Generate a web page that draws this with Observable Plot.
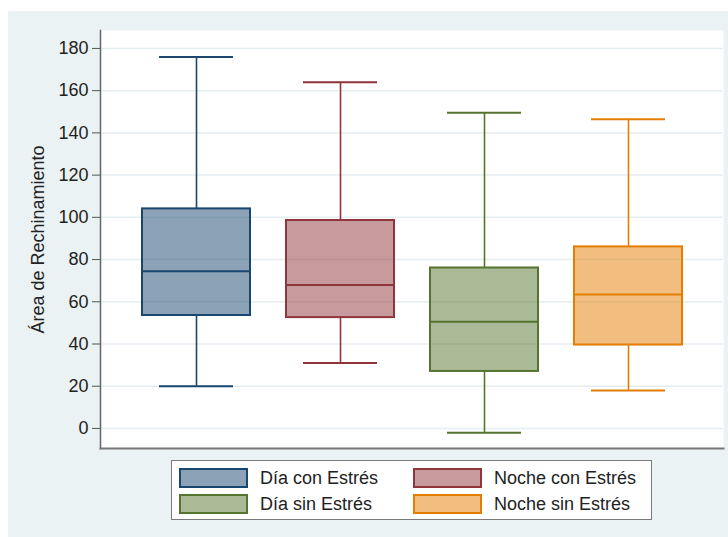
<!DOCTYPE html>
<html>
<head>
<meta charset="utf-8">
<script src="https://cdn.jsdelivr.net/npm/d3@7"></script>
<script src="https://cdn.jsdelivr.net/npm/@observablehq/plot@0.6"></script>
<style>
  html, body { margin: 0; padding: 0; background: #ffffff; }
  body { width: 728px; height: 537px; position: relative; overflow: hidden;
         font-family: "Liberation Sans", Arial, sans-serif; }
  #panel { position: absolute; left: 8px; top: 11px; width: 720px; height: 526px; background: #eaf2f3; }
  #chart { position: absolute; left: 0; top: 0; }
  #legend { position: absolute; left: 163px; top: 449px; width: 481px; height: 60px;
            box-sizing: border-box; border: 1px solid #7a7a7a; background: #ffffff; }
  .key { position: absolute; display: flex; align-items: center; height: 20px; }
  .swatch { width: 69px; height: 20px; box-sizing: border-box; border-width: 2px; border-style: solid; }
  .key span { margin-left: 12px; font-size: 18px; color: #222; white-space: nowrap; }
</style>
</head>
<body>
<div id="panel">
  <div id="chart"></div>
  <div id="legend"></div>
</div>
<script>
// Groups (x categories) in plotting order
const groups = ["Día con Estrés", "Noche con Estrés", "Día sin Estrés", "Noche sin Estrés"];
// Box-plot summaries per group
const lowerWhisker = [20, 31, -2, 18];
const quartile1 = [53.5, 52.5, 27, 39.5];
const medians = [74.5, 68, 50.5, 63.5];
const quartile3 = [104, 98.5, 76, 86];
const upperWhisker = [176, 164, 149.5, 146.5];
// Axis
const yTicks = [0, 20, 40, 60, 80, 100, 120, 140, 160, 180];
const yTitle = "Área de Rechinamiento";
// Series colours
const palette = ["#1a476f", "#90353b", "#55752f", "#e37e00"];

const rows = groups.map((g, i) => ({
  group: g,
  lo: lowerWhisker[i],
  q1: quartile1[i],
  med: medians[i],
  q3: quartile3[i],
  hi: upperWhisker[i]
}));

const chart = Plot.plot({
  width: 720,
  height: 440,
  marginLeft: 92,
  marginRight: 5,
  marginTop: 19,
  marginBottom: 3,
  style: { background: "transparent", fontFamily: "'Liberation Sans', Arial, sans-serif", color: "#222" },
  x: { type: "band", domain: groups, paddingInner: 0.2526, paddingOuter: 0.282, axis: null },
  y: { domain: [-9.5, 188.5], axis: null },
  color: { domain: groups, range: palette },
  marks: [
    Plot.frame({ fill: "white", stroke: null }),
    Plot.gridY(yTicks, { stroke: "#e4edf0", strokeOpacity: 1, strokeWidth: 1.5 }),
    Plot.axisY(yTicks, { tickSize: 8, tickPadding: 4, fontSize: 18, label: null, stroke: "#555", fill: "#222" }),
    Plot.text([yTitle], { text: d => d, frameAnchor: "left", textAnchor: "middle", dx: -62, rotate: -90, fontSize: 18, fill: "#222" }),
    // whiskers and caps
    Plot.ruleX(rows, { x: "group", y1: "lo", y2: "q1", stroke: "group", strokeWidth: 1.6 }),
    Plot.ruleX(rows, { x: "group", y1: "q3", y2: "hi", stroke: "group", strokeWidth: 1.6 }),
    Plot.tickY(rows, { x: "group", y: "lo", stroke: "group", strokeWidth: 2, insetLeft: 17, insetRight: 17 }),
    Plot.tickY(rows, { x: "group", y: "hi", stroke: "group", strokeWidth: 2, insetLeft: 17, insetRight: 17 }),
    // boxes and medians
    Plot.barY(rows, { x: "group", y1: "q1", y2: "q3", fill: "group", fillOpacity: 0.5, stroke: "group", strokeWidth: 2 }),
    Plot.tickY(rows, { x: "group", y: "med", stroke: "group", strokeWidth: 2 }),
    // axis lines
    Plot.frame({ anchor: "left", stroke: "#666", strokeWidth: 1.5 }),
    Plot.frame({ anchor: "bottom", stroke: "#777", strokeWidth: 2 })
  ]
});
document.getElementById("chart").appendChild(chart);

// Legend: two columns, row-major order
const legend = document.getElementById("legend");
const keyPos = [[7, 7], [241, 7], [7, 33], [241, 33]];
groups.forEach((g, i) => {
  const key = document.createElement("div");
  key.className = "key";
  key.style.left = keyPos[i][0] + "px";
  key.style.top = keyPos[i][1] + "px";
  const sw = document.createElement("div");
  sw.className = "swatch";
  sw.style.borderColor = palette[i];
  const c = d3.color(palette[i]); c.opacity = 0.5;
  sw.style.background = c.formatRgb();
  const label = document.createElement("span");
  label.textContent = g;
  key.appendChild(sw);
  key.appendChild(label);
  legend.appendChild(key);
});
</script>
</body>
</html>
